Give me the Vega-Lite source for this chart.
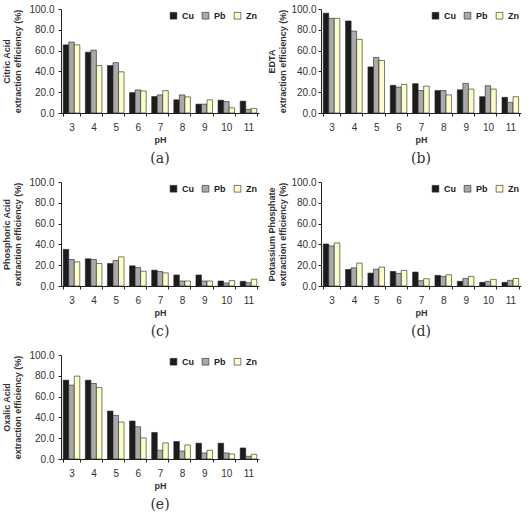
{
  "$schema": "https://vega.github.io/schema/vega-lite/v6.json",
  "background": "white",
  "padding": {"left": 2, "top": 4, "right": 6, "bottom": 2},
  "config": {
    "view": {"stroke": null},
    "font": "Liberation Sans",
    "axis": {
      "grid": false,
      "domainColor": "#222",
      "tickColor": "#222",
      "labelColor": "#333",
      "labelFont": "Liberation Sans",
      "labelFontSize": 10,
      "titleFont": "Liberation Sans",
      "titleColor": "#333",
      "titleFontSize": 9,
      "titleFontWeight": "bold"
    },
    "axisX": {"labelAngle": 0, "tickBand": "extent", "tickSize": 3, "labelPadding": 6, "titlePadding": 3},
    "axisY": {"tickSize": 3, "labelPadding": 4, "titlePadding": 6},
    "legend": {
      "orient": "top-right",
      "direction": "horizontal",
      "title": null,
      "symbolType": "square",
      "symbolSize": 45,
      "symbolStrokeColor": "#222",
      "symbolStrokeWidth": 0.8,
      "labelFont": "Liberation Sans",
      "labelFontSize": 9,
      "labelFontWeight": "bold",
      "labelColor": "#222",
      "columnPadding": 6,
      "offset": 2,
      "padding": 0
    },
    "title": {
      "font": "DejaVu Serif",
      "fontSize": 14,
      "fontWeight": "normal",
      "color": "#333",
      "orient": "bottom",
      "offset": 8
    },
    "bar": {"stroke": "#222", "strokeWidth": 0.6}
  },
  "datasets": {
    "ext": [
      {"acid": "Citric Acid", "pH": 3, "metal": "Cu", "value": 65.5},
      {"acid": "Citric Acid", "pH": 3, "metal": "Pb", "value": 68.2},
      {"acid": "Citric Acid", "pH": 3, "metal": "Zn", "value": 65.5},
      {"acid": "Citric Acid", "pH": 4, "metal": "Cu", "value": 58.5},
      {"acid": "Citric Acid", "pH": 4, "metal": "Pb", "value": 60.4},
      {"acid": "Citric Acid", "pH": 4, "metal": "Zn", "value": 45.6},
      {"acid": "Citric Acid", "pH": 5, "metal": "Cu", "value": 45.6},
      {"acid": "Citric Acid", "pH": 5, "metal": "Pb", "value": 48.4},
      {"acid": "Citric Acid", "pH": 5, "metal": "Zn", "value": 39.6},
      {"acid": "Citric Acid", "pH": 6, "metal": "Cu", "value": 19.6},
      {"acid": "Citric Acid", "pH": 6, "metal": "Pb", "value": 22.2},
      {"acid": "Citric Acid", "pH": 6, "metal": "Zn", "value": 21.2},
      {"acid": "Citric Acid", "pH": 7, "metal": "Cu", "value": 15.8},
      {"acid": "Citric Acid", "pH": 7, "metal": "Pb", "value": 17.4},
      {"acid": "Citric Acid", "pH": 7, "metal": "Zn", "value": 21.5},
      {"acid": "Citric Acid", "pH": 8, "metal": "Cu", "value": 12.7},
      {"acid": "Citric Acid", "pH": 8, "metal": "Pb", "value": 17.4},
      {"acid": "Citric Acid", "pH": 8, "metal": "Zn", "value": 15.5},
      {"acid": "Citric Acid", "pH": 9, "metal": "Cu", "value": 8.5},
      {"acid": "Citric Acid", "pH": 9, "metal": "Pb", "value": 8.5},
      {"acid": "Citric Acid", "pH": 9, "metal": "Zn", "value": 12.7},
      {"acid": "Citric Acid", "pH": 10, "metal": "Cu", "value": 12.3},
      {"acid": "Citric Acid", "pH": 10, "metal": "Pb", "value": 11.0},
      {"acid": "Citric Acid", "pH": 10, "metal": "Zn", "value": 5.0},
      {"acid": "Citric Acid", "pH": 11, "metal": "Cu", "value": 11.4},
      {"acid": "Citric Acid", "pH": 11, "metal": "Pb", "value": 3.5},
      {"acid": "Citric Acid", "pH": 11, "metal": "Zn", "value": 4.4},

      {"acid": "EDTA", "pH": 3, "metal": "Cu", "value": 96.0},
      {"acid": "EDTA", "pH": 3, "metal": "Pb", "value": 91.0},
      {"acid": "EDTA", "pH": 3, "metal": "Zn", "value": 91.0},
      {"acid": "EDTA", "pH": 4, "metal": "Cu", "value": 88.5},
      {"acid": "EDTA", "pH": 4, "metal": "Pb", "value": 78.7},
      {"acid": "EDTA", "pH": 4, "metal": "Zn", "value": 70.8},
      {"acid": "EDTA", "pH": 5, "metal": "Cu", "value": 44.3},
      {"acid": "EDTA", "pH": 5, "metal": "Pb", "value": 53.4},
      {"acid": "EDTA", "pH": 5, "metal": "Zn", "value": 50.5},
      {"acid": "EDTA", "pH": 6, "metal": "Cu", "value": 26.6},
      {"acid": "EDTA", "pH": 6, "metal": "Pb", "value": 24.9},
      {"acid": "EDTA", "pH": 6, "metal": "Zn", "value": 27.5},
      {"acid": "EDTA", "pH": 7, "metal": "Cu", "value": 28.2},
      {"acid": "EDTA", "pH": 7, "metal": "Pb", "value": 21.6},
      {"acid": "EDTA", "pH": 7, "metal": "Zn", "value": 25.9},
      {"acid": "EDTA", "pH": 8, "metal": "Cu", "value": 21.6},
      {"acid": "EDTA", "pH": 8, "metal": "Pb", "value": 21.6},
      {"acid": "EDTA", "pH": 8, "metal": "Zn", "value": 17.4},
      {"acid": "EDTA", "pH": 9, "metal": "Cu", "value": 22.3},
      {"acid": "EDTA", "pH": 9, "metal": "Pb", "value": 28.5},
      {"acid": "EDTA", "pH": 9, "metal": "Zn", "value": 23.0},
      {"acid": "EDTA", "pH": 10, "metal": "Cu", "value": 15.7},
      {"acid": "EDTA", "pH": 10, "metal": "Pb", "value": 26.2},
      {"acid": "EDTA", "pH": 10, "metal": "Zn", "value": 23.0},
      {"acid": "EDTA", "pH": 11, "metal": "Cu", "value": 15.1},
      {"acid": "EDTA", "pH": 11, "metal": "Pb", "value": 10.2},
      {"acid": "EDTA", "pH": 11, "metal": "Zn", "value": 15.7},

      {"acid": "Phosphoric Acid", "pH": 3, "metal": "Cu", "value": 35.2},
      {"acid": "Phosphoric Acid", "pH": 3, "metal": "Pb", "value": 25.5},
      {"acid": "Phosphoric Acid", "pH": 3, "metal": "Zn", "value": 23.2},
      {"acid": "Phosphoric Acid", "pH": 4, "metal": "Cu", "value": 26.1},
      {"acid": "Phosphoric Acid", "pH": 4, "metal": "Pb", "value": 25.5},
      {"acid": "Phosphoric Acid", "pH": 4, "metal": "Zn", "value": 21.6},
      {"acid": "Phosphoric Acid", "pH": 5, "metal": "Cu", "value": 21.6},
      {"acid": "Phosphoric Acid", "pH": 5, "metal": "Pb", "value": 24.5},
      {"acid": "Phosphoric Acid", "pH": 5, "metal": "Zn", "value": 28.0},
      {"acid": "Phosphoric Acid", "pH": 6, "metal": "Cu", "value": 19.4},
      {"acid": "Phosphoric Acid", "pH": 6, "metal": "Pb", "value": 17.7},
      {"acid": "Phosphoric Acid", "pH": 6, "metal": "Zn", "value": 14.2},
      {"acid": "Phosphoric Acid", "pH": 7, "metal": "Cu", "value": 15.2},
      {"acid": "Phosphoric Acid", "pH": 7, "metal": "Pb", "value": 13.9},
      {"acid": "Phosphoric Acid", "pH": 7, "metal": "Zn", "value": 12.6},
      {"acid": "Phosphoric Acid", "pH": 8, "metal": "Cu", "value": 10.6},
      {"acid": "Phosphoric Acid", "pH": 8, "metal": "Pb", "value": 4.8},
      {"acid": "Phosphoric Acid", "pH": 8, "metal": "Zn", "value": 4.8},
      {"acid": "Phosphoric Acid", "pH": 9, "metal": "Cu", "value": 10.6},
      {"acid": "Phosphoric Acid", "pH": 9, "metal": "Pb", "value": 4.8},
      {"acid": "Phosphoric Acid", "pH": 9, "metal": "Zn", "value": 4.8},
      {"acid": "Phosphoric Acid", "pH": 10, "metal": "Cu", "value": 4.8},
      {"acid": "Phosphoric Acid", "pH": 10, "metal": "Pb", "value": 2.9},
      {"acid": "Phosphoric Acid", "pH": 10, "metal": "Zn", "value": 5.2},
      {"acid": "Phosphoric Acid", "pH": 11, "metal": "Cu", "value": 4.5},
      {"acid": "Phosphoric Acid", "pH": 11, "metal": "Pb", "value": 3.2},
      {"acid": "Phosphoric Acid", "pH": 11, "metal": "Zn", "value": 6.5},

      {"acid": "Potassium Phosphate", "pH": 3, "metal": "Cu", "value": 40.4},
      {"acid": "Potassium Phosphate", "pH": 3, "metal": "Pb", "value": 38.5},
      {"acid": "Potassium Phosphate", "pH": 3, "metal": "Zn", "value": 41.4},
      {"acid": "Potassium Phosphate", "pH": 4, "metal": "Cu", "value": 15.9},
      {"acid": "Potassium Phosphate", "pH": 4, "metal": "Pb", "value": 17.5},
      {"acid": "Potassium Phosphate", "pH": 4, "metal": "Zn", "value": 22.0},
      {"acid": "Potassium Phosphate", "pH": 5, "metal": "Cu", "value": 12.4},
      {"acid": "Potassium Phosphate", "pH": 5, "metal": "Pb", "value": 16.2},
      {"acid": "Potassium Phosphate", "pH": 5, "metal": "Zn", "value": 18.2},
      {"acid": "Potassium Phosphate", "pH": 6, "metal": "Cu", "value": 14.0},
      {"acid": "Potassium Phosphate", "pH": 6, "metal": "Pb", "value": 12.1},
      {"acid": "Potassium Phosphate", "pH": 6, "metal": "Zn", "value": 15.0},
      {"acid": "Potassium Phosphate", "pH": 7, "metal": "Cu", "value": 13.4},
      {"acid": "Potassium Phosphate", "pH": 7, "metal": "Pb", "value": 5.1},
      {"acid": "Potassium Phosphate", "pH": 7, "metal": "Zn", "value": 7.0},
      {"acid": "Potassium Phosphate", "pH": 8, "metal": "Cu", "value": 10.2},
      {"acid": "Potassium Phosphate", "pH": 8, "metal": "Pb", "value": 9.2},
      {"acid": "Potassium Phosphate", "pH": 8, "metal": "Zn", "value": 10.8},
      {"acid": "Potassium Phosphate", "pH": 9, "metal": "Cu", "value": 4.5},
      {"acid": "Potassium Phosphate", "pH": 9, "metal": "Pb", "value": 7.3},
      {"acid": "Potassium Phosphate", "pH": 9, "metal": "Zn", "value": 9.2},
      {"acid": "Potassium Phosphate", "pH": 10, "metal": "Cu", "value": 3.5},
      {"acid": "Potassium Phosphate", "pH": 10, "metal": "Pb", "value": 4.5},
      {"acid": "Potassium Phosphate", "pH": 10, "metal": "Zn", "value": 6.4},
      {"acid": "Potassium Phosphate", "pH": 11, "metal": "Cu", "value": 3.5},
      {"acid": "Potassium Phosphate", "pH": 11, "metal": "Pb", "value": 5.4},
      {"acid": "Potassium Phosphate", "pH": 11, "metal": "Zn", "value": 7.3},

      {"acid": "Oxalic Acid", "pH": 3, "metal": "Cu", "value": 75.8},
      {"acid": "Oxalic Acid", "pH": 3, "metal": "Pb", "value": 71.0},
      {"acid": "Oxalic Acid", "pH": 3, "metal": "Zn", "value": 79.7},
      {"acid": "Oxalic Acid", "pH": 4, "metal": "Cu", "value": 75.8},
      {"acid": "Oxalic Acid", "pH": 4, "metal": "Pb", "value": 72.6},
      {"acid": "Oxalic Acid", "pH": 4, "metal": "Zn", "value": 68.7},
      {"acid": "Oxalic Acid", "pH": 5, "metal": "Cu", "value": 46.1},
      {"acid": "Oxalic Acid", "pH": 5, "metal": "Pb", "value": 41.9},
      {"acid": "Oxalic Acid", "pH": 5, "metal": "Zn", "value": 35.5},
      {"acid": "Oxalic Acid", "pH": 6, "metal": "Cu", "value": 36.5},
      {"acid": "Oxalic Acid", "pH": 6, "metal": "Pb", "value": 31.0},
      {"acid": "Oxalic Acid", "pH": 6, "metal": "Zn", "value": 20.3},
      {"acid": "Oxalic Acid", "pH": 7, "metal": "Cu", "value": 25.5},
      {"acid": "Oxalic Acid", "pH": 7, "metal": "Pb", "value": 8.4},
      {"acid": "Oxalic Acid", "pH": 7, "metal": "Zn", "value": 15.5},
      {"acid": "Oxalic Acid", "pH": 8, "metal": "Cu", "value": 16.8},
      {"acid": "Oxalic Acid", "pH": 8, "metal": "Pb", "value": 7.7},
      {"acid": "Oxalic Acid", "pH": 8, "metal": "Zn", "value": 13.5},
      {"acid": "Oxalic Acid", "pH": 9, "metal": "Cu", "value": 15.2},
      {"acid": "Oxalic Acid", "pH": 9, "metal": "Pb", "value": 5.8},
      {"acid": "Oxalic Acid", "pH": 9, "metal": "Zn", "value": 8.4},
      {"acid": "Oxalic Acid", "pH": 10, "metal": "Cu", "value": 15.2},
      {"acid": "Oxalic Acid", "pH": 10, "metal": "Pb", "value": 5.8},
      {"acid": "Oxalic Acid", "pH": 10, "metal": "Zn", "value": 4.8},
      {"acid": "Oxalic Acid", "pH": 11, "metal": "Cu", "value": 10.6},
      {"acid": "Oxalic Acid", "pH": 11, "metal": "Pb", "value": 2.6},
      {"acid": "Oxalic Acid", "pH": 11, "metal": "Zn", "value": 4.5}
    ]
  },
  "spacing": 11,
  "resolve": {"scale": {"color": "independent", "y": "independent", "x": "independent"}, "legend": {"color": "independent"}},
  "vconcat": [
    {
      "spacing": 8,
      "resolve": {"scale": {"color": "independent"}, "legend": {"color": "independent"}},
      "hconcat": [
        {
          "width": 198, "height": 104,
          "title": {"text": "(a)"},
          "data": {"name": "ext"},
          "transform": [{"filter": "datum.acid == 'Citric Acid'"}],
          "mark": {"type": "bar"},
          "encoding": {
            "x": {"field": "pH", "type": "ordinal", "scale": {"paddingInner": 0.25, "paddingOuter": 0.1}, "axis": {"title": "pH"}},
            "xOffset": {"field": "metal", "sort": ["Cu", "Pb", "Zn"]},
            "y": {"field": "value", "type": "quantitative", "scale": {"domain": [0, 100]}, "axis": {"title": ["Citric Acid", "extraction efficiency (%)"], "values": [0, 20, 40, 60, 80, 100], "format": ".1f"}},
            "color": {"field": "metal", "type": "nominal", "scale": {"domain": ["Cu", "Pb", "Zn"], "range": ["#1c1c1c", "#a9a9a9", "#fdfdc8"]}}
          }
        },
        {
          "width": 200, "height": 104,
          "title": {"text": "(b)"},
          "data": {"name": "ext"},
          "transform": [{"filter": "datum.acid == 'EDTA'"}],
          "mark": {"type": "bar"},
          "encoding": {
            "x": {"field": "pH", "type": "ordinal", "scale": {"paddingInner": 0.25, "paddingOuter": 0.1}, "axis": {"title": "pH"}},
            "xOffset": {"field": "metal", "sort": ["Cu", "Pb", "Zn"]},
            "y": {"field": "value", "type": "quantitative", "scale": {"domain": [0, 100]}, "axis": {"title": ["EDTA", "extraction efficiency (%)"], "values": [0, 20, 40, 60, 80, 100], "format": ".1f", "labelPadding": 2, "titlePadding": 3}},
            "color": {"field": "metal", "type": "nominal", "scale": {"domain": ["Cu", "Pb", "Zn"], "range": ["#1c1c1c", "#a9a9a9", "#fdfdc8"]}}
          }
        }
      ]
    },
    {
      "spacing": 8,
      "resolve": {"scale": {"color": "independent"}, "legend": {"color": "independent"}},
      "hconcat": [
        {
          "width": 198, "height": 104,
          "title": {"text": "(c)"},
          "data": {"name": "ext"},
          "transform": [{"filter": "datum.acid == 'Phosphoric Acid'"}],
          "mark": {"type": "bar"},
          "encoding": {
            "x": {"field": "pH", "type": "ordinal", "scale": {"paddingInner": 0.25, "paddingOuter": 0.1}, "axis": {"title": "pH"}},
            "xOffset": {"field": "metal", "sort": ["Cu", "Pb", "Zn"]},
            "y": {"field": "value", "type": "quantitative", "scale": {"domain": [0, 100]}, "axis": {"title": ["Phosphoric  Acid", "extraction efficiency (%)"], "values": [0, 20, 40, 60, 80, 100], "format": ".1f"}},
            "color": {"field": "metal", "type": "nominal", "scale": {"domain": ["Cu", "Pb", "Zn"], "range": ["#1c1c1c", "#a9a9a9", "#fdfdc8"]}}
          }
        },
        {
          "width": 200, "height": 104,
          "title": {"text": "(d)"},
          "data": {"name": "ext"},
          "transform": [{"filter": "datum.acid == 'Potassium Phosphate'"}],
          "mark": {"type": "bar"},
          "encoding": {
            "x": {"field": "pH", "type": "ordinal", "scale": {"paddingInner": 0.25, "paddingOuter": 0.1}, "axis": {"title": "pH"}},
            "xOffset": {"field": "metal", "sort": ["Cu", "Pb", "Zn"]},
            "y": {"field": "value", "type": "quantitative", "scale": {"domain": [0, 100]}, "axis": {"title": ["Potassium Phosphate", "extraction efficiency (%)"], "values": [0, 20, 40, 60, 80, 100], "format": ".1f", "labelPadding": 2, "titlePadding": 3}},
            "color": {"field": "metal", "type": "nominal", "scale": {"domain": ["Cu", "Pb", "Zn"], "range": ["#1c1c1c", "#a9a9a9", "#fdfdc8"]}}
          }
        }
      ]
    },
    {
      "width": 198, "height": 104,
      "title": {"text": "(e)"},
      "data": {"name": "ext"},
      "transform": [{"filter": "datum.acid == 'Oxalic Acid'"}],
      "mark": {"type": "bar"},
      "encoding": {
        "x": {"field": "pH", "type": "ordinal", "scale": {"paddingInner": 0.25, "paddingOuter": 0.1}, "axis": {"title": "pH"}},
        "xOffset": {"field": "metal", "sort": ["Cu", "Pb", "Zn"]},
        "y": {"field": "value", "type": "quantitative", "scale": {"domain": [0, 100]}, "axis": {"title": ["Oxalic Acid", "extraction efficiency (%)"], "values": [0, 20, 40, 60, 80, 100], "format": ".1f"}},
        "color": {"field": "metal", "type": "nominal", "scale": {"domain": ["Cu", "Pb", "Zn"], "range": ["#1c1c1c", "#a9a9a9", "#fdfdc8"]}}
      }
    }
  ]
}
